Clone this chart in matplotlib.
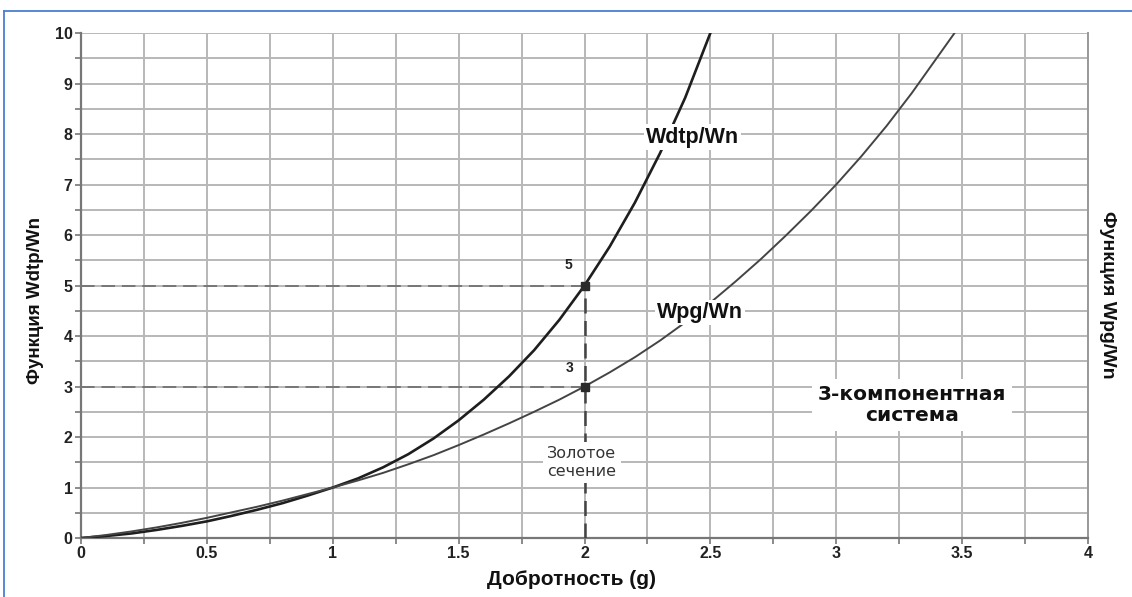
import matplotlib
matplotlib.use("Agg")
import matplotlib.pyplot as plt
from matplotlib.lines import Line2D

plt.rcParams['font.family'] = ['Liberation Sans', 'DejaVu Sans']

# Quality factor g and the two energy ratios
g_dtp = [0.0, 0.1, 0.2, 0.3, 0.4, 0.5, 0.6, 0.7, 0.8, 0.9, 1.0,
         1.1, 1.2, 1.3, 1.4, 1.5, 1.6, 1.7, 1.8, 1.9, 2.0,
         2.1, 2.2, 2.3, 2.4, 2.5]
w_dtp = [0.0, 0.04, 0.09, 0.16, 0.24, 0.33, 0.44, 0.56, 0.69, 0.84, 1.0,
         1.18, 1.40, 1.66, 1.97, 2.33, 2.74, 3.20, 3.72, 4.32, 5.0,
         5.77, 6.64, 7.62, 8.72, 10.0]

g_pg = [0.0, 0.1, 0.2, 0.3, 0.4, 0.5, 0.6, 0.7, 0.8, 0.9, 1.0,
        1.1, 1.2, 1.3, 1.4, 1.5, 1.6, 1.7, 1.8, 1.9, 2.0,
        2.1, 2.2, 2.3, 2.4, 2.5, 2.6, 2.7, 2.8, 2.9, 3.0,
        3.1, 3.2, 3.3, 3.4, 3.47]
w_pg = [0.0, 0.06, 0.13, 0.21, 0.30, 0.40, 0.51, 0.62, 0.74, 0.87, 1.0,
        1.14, 1.29, 1.46, 1.64, 1.84, 2.05, 2.27, 2.5, 2.74, 3.0,
        3.28, 3.58, 3.91, 4.27, 4.66, 5.08, 5.52, 5.99, 6.48, 7.0,
        7.56, 8.16, 8.81, 9.51, 10.0]

golden_g = 2.0
golden_vals = [5, 3]

x_ticks = [0, 0.5, 1, 1.5, 2, 2.5, 3, 3.5, 4]
x_tick_labels = ['0', '0.5', '1', '1.5', '2', '2.5', '3', '3.5', '4']
y_ticks = list(range(0, 11))

fig = plt.figure(figsize=(11.32, 5.97), dpi=100)
ax = fig.add_axes([0.0716, 0.0988, 0.8895, 0.8459])

ax.set_xlim(0, 4)
ax.set_ylim(0, 10)

# grid
grid_c = '#b8b8b8'
for i in range(1, 17):
    ax.axvline(i * 0.25, color=grid_c, lw=1.4, zorder=1)
for j in range(1, 21):
    ax.axhline(j * 0.5, color=grid_c, lw=1.4, zorder=1)

ax.spines['top'].set_visible(False)
ax.spines['left'].set_color('#777777')
ax.spines['left'].set_linewidth(1.6)
ax.spines['bottom'].set_color('#777777')
ax.spines['bottom'].set_linewidth(1.6)
ax.spines['right'].set_color('#9a9a9a')
ax.spines['right'].set_linewidth(1.4)

ax.set_xticks(x_ticks)
ax.set_xticklabels(x_tick_labels, fontsize=11.5, fontweight='bold', color='#222222')
ax.set_xticks([0.25 * i for i in range(17)], minor=True)
ax.set_yticks(y_ticks)
ax.set_yticklabels([str(v) for v in y_ticks], fontsize=11.5, fontweight='bold', color='#222222')
ax.set_yticks([0.5 * i for i in range(21)], minor=True)
ax.tick_params(axis='both', which='both', length=4, width=1.2, color='#777777', pad=2)

# curves
ax.plot(g_dtp, w_dtp, color='#1e1e1e', lw=1.9, zorder=4, solid_joinstyle='round')
ax.plot(g_pg, w_pg, color='#444444', lw=1.4, zorder=4, solid_joinstyle='round')

# golden section guides
for v in golden_vals:
    ax.plot([0, golden_g], [v, v], color='#777777', lw=1.4,
            linestyle=(0, (7, 3.5)), zorder=3)
ax.plot([golden_g, golden_g], [0, max(golden_vals)], color='#444444', lw=1.8,
        linestyle=(0, (6, 3)), zorder=3)
ax.plot([golden_g] * len(golden_vals), golden_vals, linestyle='none', marker='s',
        markersize=6, color='#2a2a2a', zorder=6)
ax.text(1.935, 5.4, '5', fontsize=10, fontweight='bold', ha='center', va='center',
        color='#222222', zorder=7)
ax.text(1.94, 3.37, '3', fontsize=10, fontweight='bold', ha='center', va='center',
        color='#222222', zorder=7)

box = dict(facecolor='white', edgecolor='none', pad=1.5)
ax.text(2.43, 7.94, 'Wdtp/Wn', fontsize=15.5, fontweight='bold', ha='center', va='center',
        color='#111111', bbox=box, zorder=7)
ax.text(2.46, 4.46, 'Wpg/Wn', fontsize=15.5, fontweight='bold', ha='center', va='center',
        color='#111111', bbox=box, zorder=7)
ax.text(1.99, 1.5, 'Золотое\nсечение', fontsize=11.5, family='DejaVu Sans',
        ha='center', va='center', color='#333333', linespacing=1.25,
        bbox=dict(facecolor='white', edgecolor='none', pad=3), zorder=7)
ax.text(3.3, 2.63, '3-компонентная\nсистема', fontsize=14.5, fontweight='bold',
        family='DejaVu Sans', ha='center', va='center', color='#111111', linespacing=1.15,
        bbox=dict(facecolor='white', edgecolor='none', pad=4), zorder=7)

# axis titles
fig.text(0.031, 0.497, 'Функция Wdtp/Wn', rotation=90, fontsize=13.5, fontweight='bold',
         ha='center', va='center', color='#111111')
fig.text(0.978, 0.506, 'Функция Wpg/Wn', rotation=-90, fontsize=14, fontweight='bold',
         ha='center', va='center', color='#111111')
fig.text(0.505, 0.0285, 'Добротность (g)', fontsize=15, fontweight='bold',
         ha='center', va='center', color='#111111')

# frame lines along the top and left of the figure
fig.add_artist(Line2D([4 / 1132, 1.0], [1 - 11 / 597, 1 - 11 / 597],
                      transform=fig.transFigure, color='#4a7fcf', lw=1.3))
fig.add_artist(Line2D([4 / 1132, 4 / 1132], [0, 1 - 11 / 597],
                      transform=fig.transFigure, color='#4a7fcf', lw=1.3))

fig.savefig('out.png', dpi=100, facecolor='white')
